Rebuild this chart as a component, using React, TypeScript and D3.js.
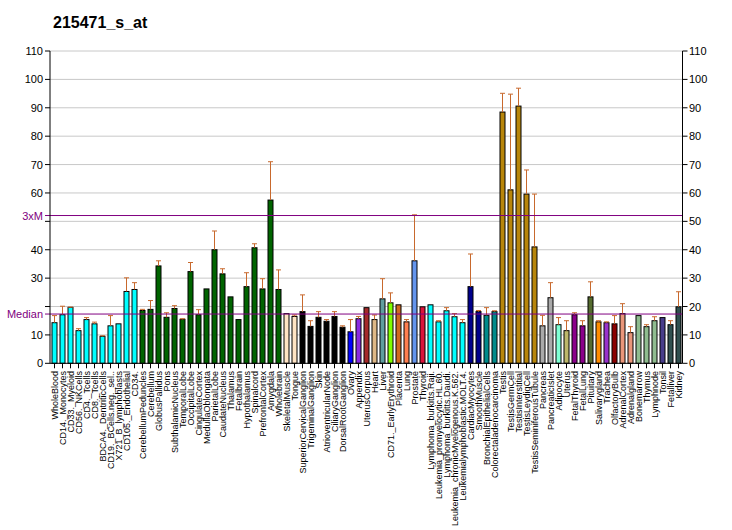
import React from "react";
import * as d3 from "d3";

const title = "215471_s_at";

const labels: string[] = [
  "WholeBlood", "CD14._Monocytes", "CD33._Myeloid", "CD56._NKCells", "CD4._Tcells", "CD8._Tcells",
  "BDCA4._DentriticCells", "CD19._BCells.neg._sel..", "X721_B_lymphoblasts", "CD105._Endothelial", "CD34.",
  "CerebellumPeduncles", "Cerebellum", "GlobusPallidus", "Pons", "SubthalamicNucleus", "TemporalLobe",
  "OccipitalLobe", "CingulateCortex", "MedullaOblongata", "ParietalLobe", "CaudateNucleus", "Thalamus",
  "Fetalbrain", "Hypothalamus", "Spinalcord", "PrefrontalCortex", "Amygdala", "Wholebrain",
  "SkeletalMuscle", "Tongue", "SuperiorCervicalGanglion", "TrigeminalGanglion", "Skin",
  "AtrioventricularNode", "CiliaryGanglion", "DorsalRootGanglion", "Ovary", "Appendix", "UterusCorpus",
  "Heart", "Liver", "CD71._EarlyErythroid", "Placenta", "Lung", "Prostate", "Thyroid",
  "Lymphoma_burkitts.Raji.", "Leukemia_promyelocytic.HL.60.", "Lymphoma_burkitts.Daudi.",
  "Leukemia_chronicMyelogenous.K.562.", "Leukemialymphoblastic.MOLT.4.", "CardiacMyocytes", "SmoothMuscle",
  "BronchialEpithelialCells", "Colorectaladenocarcinoma", "Testis", "TestisGermCell", "TestisInterstitial",
  "TestisLeydigCell", "TestisSeminiferousTubule", "Pancreas", "PancreaticIslet", "Adipocyte", "Uterus",
  "FetalThyroid", "FetalLung", "Pituitary", "Salivarygland", "Trachea", "OlfactoryBulb", "AdrenalCortex",
  "Adrenalgland", "Bonemarrow", "Thymus", "Lymphnode", "Tonsil", "Fetalliver", "Kidney",
];

const values: number[] = [
  14.3, 17.1, 19.7, 11.5, 15.4, 13.9, 9.5, 13.2, 13.9, 25.3, 26.0,
  18.6, 19.0, 34.3, 16.2, 19.3, 15.5, 32.3, 17.1, 26.2, 40.0, 31.5, 23.4,
  15.4, 27.0, 40.7, 26.2, 57.5, 26.0,
  17.5, 16.5, 18.2, 13.0, 16.2, 14.8, 16.5, 12.7, 11.1, 15.7, 19.6,
  15.4, 22.7, 21.3, 20.6, 14.6, 36.1, 19.9,
  20.6, 14.6, 18.5, 16.4, 14.3, 27.0, 18.2,
  16.9, 18.2, 88.5, 61.1, 90.6, 59.6, 41.0, 13.2, 23.1, 13.6, 11.5,
  17.1, 13.2, 23.4, 14.6, 14.3, 13.9, 17.5, 10.8, 16.8, 12.9, 15.0, 16.1, 13.6, 19.9,
];

// upper end of error bar (null = no error bar drawn)
const errorTops: (number | null)[] = [
  16.8, 20.1, 19.8, 12.2, 16.1, 14.5, 9.7, 16.8, null, 30.1, 28.4,
  19.0, 22.1, 36.1, 17.8, 20.3, 15.7, 35.5, 18.9, null, 46.6, 33.3, null,
  null, 31.9, 42.1, 29.8, 71.0, 32.9,
  null, 17.0, 24.1, 15.0, 18.2, 15.4, 18.2, 13.2, 15.4, 16.5, null,
  17.0, 29.8, 24.8, null, 15.4, 52.3, null,
  null, 15.0, 19.6, 17.5, 15.4, 38.5, 18.6,
  19.6, 18.5, 95.1, 94.8, 96.9, 68.1, 59.6, 16.9, 28.4, 16.1, 15.0,
  17.8, 15.0, 28.7, 15.0, 14.6, 16.8, 21.0, 12.9, null, 13.6, 16.4, null, 15.0, 25.2,
];

const barColors: string[] = [
  ...Array(11).fill("#00FFFF"),
  ...Array(18).fill("#006400"),
  "#FFE4C4", "#FFE4C4",
  ...Array(6).fill("#000000"),
  "#0000FF", "#8A2BE2", "#A52A2A", "#DEB887", "#5F9EA0", "#7FFF00", "#D2691E", "#FF7F50",
  "#6495ED", "#DC143C",
  ...Array(5).fill("#00FFFF"),
  "#00008B", "#00008B", "#008B8B", "#008B8B",
  ...Array(5).fill("#B8860B"),
  "#A9A9A9", "#A9A9A9", "#7FFFD4", "#BDB76B", "#8B008B", "#8B008B", "#556B2F", "#FF8C00",
  "#9932CC", "#8B0000", "#E9967A", "#E9967A", "#8FBC8F", "#8FBC8F", "#8FBC8F", "#483D8B",
  "#2F4F4F", "#2F4F4F",
];

const yTicks: number[] = [0, 10, 20, 30, 40, 50, 60, 70, 80, 90, 100, 110];
const leftTickLabels: number[] = [0, 10, 30, 40, 60, 70, 80, 90, 100, 110];
const median = 17.35;

export default function App() {
  const W = 732, H = 530;
  const left = 50, right = 682.5, top = 51, bottom = 363.3;
  const x = d3.scaleBand<string>().domain(labels).range([left + 0.5, right]).padding(0);
  const y = d3.scaleLinear().domain([0, 110]).range([bottom, top]);
  const bw = x.bandwidth() * 0.625;
  const errColor = "#C8692D";
  const purple = "#800080";
  const font = "Arial, 'Liberation Sans', sans-serif";

  return (
    <svg width={W} height={H} style={{ position: "absolute", left: 0, top: 0, background: "#fff" }} fontFamily={font}>
      <rect x={0} y={0} width={W} height={H} fill="#fff" />
      <text x={53} y={28} fontSize={16} fontWeight="bold" fill="#000">{title}</text>
      {/* grid */}
      {yTicks.filter((t) => t > 0).map((t) => (
        <line key={"g" + t} x1={left} x2={right} y1={y(t)} y2={y(t)} stroke="#C8C8C8" strokeWidth={1} />
      ))}
      {/* bars */}
      {labels.map((l, i) => {
        const cx = (x(l) as number) + x.bandwidth() / 2;
        return (
          <rect key={"b" + i} x={cx - bw / 2} y={y(values[i])} width={bw} height={y(0) - y(values[i])}
            fill={barColors[i]} stroke="#000" strokeWidth={1} />
        );
      })}
      {/* error bars */}
      {labels.map((l, i) => {
        const e = errorTops[i];
        if (e == null) return null;
        const cx = (x(l) as number) + x.bandwidth() / 2;
        return (
          <g key={"e" + i} stroke={errColor} strokeWidth={1}>
            <line x1={cx} x2={cx} y1={y(values[i])} y2={y(e)} />
            <line x1={cx - bw / 2} x2={cx + bw / 2} y1={y(e)} y2={y(e)} />
          </g>
        );
      })}
      {/* median & 3xM lines */}
      <line x1={45} x2={right} y1={y(median)} y2={y(median)} stroke={purple} strokeWidth={1} />
      <line x1={45} x2={right} y1={y(median * 3)} y2={y(median * 3)} stroke={purple} strokeWidth={1} />
      <text x={43} y={y(median) + 4} fontSize={11} textAnchor="end" fill={purple}>Median</text>
      <text x={43} y={y(median * 3) + 4} fontSize={11} textAnchor="end" fill={purple}>3xM</text>
      {/* axes */}
      <line x1={left} x2={left} y1={top} y2={bottom} stroke="#000" />
      <line x1={right} x2={right} y1={top} y2={bottom} stroke="#000" />
      <line x1={left} x2={right} y1={bottom} y2={bottom} stroke="#000" />
      {yTicks.map((t) => (
        <g key={"t" + t}>
          <line x1={left - 5} x2={left} y1={y(t)} y2={y(t)} stroke="#000" />
          <line x1={right} x2={right + 5} y1={y(t)} y2={y(t)} stroke="#000" />
          <text x={689} y={y(t) + 4} fontSize={11} textAnchor="start" fill="#000">{t}</text>
        </g>
      ))}
      {leftTickLabels.map((t) => (
        <text key={"lt" + t} x={43} y={y(t) + 4} fontSize={11} textAnchor="end" fill="#000">{t}</text>
      ))}
      {/* x ticks and labels */}
      {labels.map((l, i) => {
        const cx = (x(l) as number) + x.bandwidth() / 2;
        return (
          <g key={"x" + i}>
            <line x1={cx} x2={cx} y1={bottom} y2={bottom + 5} stroke="#000" />
            <text transform={`translate(${cx + 3.5},${371}) rotate(-90)`} fontSize={9} textAnchor="end" fill="#000">{l}</text>
          </g>
        );
      })}
    </svg>
  );
}
